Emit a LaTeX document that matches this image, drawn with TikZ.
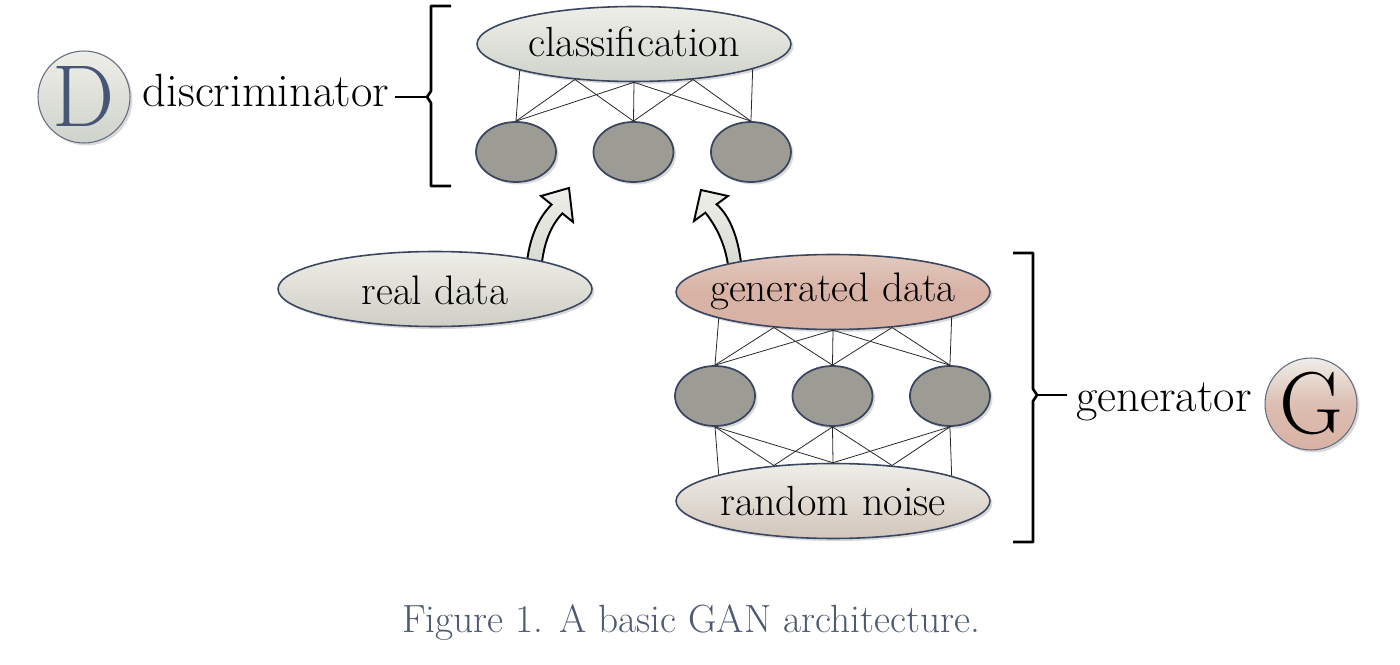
\documentclass[tikz,border=0pt]{standalone}
\usetikzlibrary{shapes.geometric,shadows,backgrounds}

\definecolor{edgeblue}{RGB}{58,70,96}
\definecolor{paletop}{RGB}{238,238,232}
\definecolor{palebot}{RGB}{206,211,203}
\definecolor{rose}{RGB}{216,178,164}
\definecolor{unitgray}{RGB}{157,156,148}
\definecolor{dletter}{RGB}{70,86,116}
\definecolor{capblue}{RGB}{78,90,114}

\newcommand\lblfont{\fontsize{24}{28}\selectfont}
\newcommand\sidefont{\fontsize{26.5}{30}\selectfont}
\newcommand\badgefont{\fontsize{50}{56}\selectfont}

\begin{document}
\begin{tikzpicture}[x=0.02cm, y=-0.02cm,
    layer/.style = {draw=edgeblue, line width=0.9pt, ellipse, inner sep=0pt,
      minimum width=6.28cm, minimum height=1.5cm,
      drop shadow={shadow xshift=0.05cm, shadow yshift=-0.05cm, opacity=0.3}},
    pale/.style = {top color=paletop, bottom color=palebot},
    pink/.style = {top color=rose!60!paletop, bottom color=rose, middle color=rose},
    unit/.style = {draw=edgeblue, line width=1pt, ellipse, fill=unitgray, inner sep=0pt,
      minimum width=1.6cm, minimum height=1.2cm,
      drop shadow={shadow xshift=0.05cm, shadow yshift=-0.05cm, opacity=0.3}},
    txt/.style = {font=\lblfont, anchor=base, inner sep=0pt},
    badge/.style = {draw=edgeblue!80, circle, line width=0.6pt, inner sep=0pt, minimum size=1.84cm,
      font=\badgefont,
      drop shadow={shadow xshift=0.05cm, shadow yshift=-0.05cm, opacity=0.3}},
    conn/.style = {line width=0.45pt, black!85},
    brace/.style = {line width=1.5pt, line join=round},
    bigarrow/.style = {draw=black, line width=1.1pt, line join=miter, top color=paletop, bottom color=palebot!80!paletop},
    node distance=2.35cm]

    % discriminator side
    \node[layer, pale] (cls) at (634,44) {};
    \node[txt] at (634,57) {classification};
    \node[unit] (d1) at (516,152) {};
    \node[unit] (d2) [right of=d1] {};
    \node[unit] (d3) [right of=d2] {};
    %
    \draw[conn] (d1.north) -- (cls.-167.9);
    \draw[conn] (d1.north) -- (cls.-149);
    \draw[conn] (d1.north) -- (cls.south);
    \draw[conn] (d2.north) -- (cls.-149);
    \draw[conn] (d2.north) -- (cls.south);
    \draw[conn] (d2.north) -- (cls.-31);
    \draw[conn] (d3.north) -- (cls.south);
    \draw[conn] (d3.north) -- (cls.-31);
    \draw[conn] (d3.north) -- (cls.-12.1);

    \node[txt, font=\sidefont] (dtxt) at (266,107) {discriminator};
    \node[badge, top color=paletop, bottom color=palebot, text=dletter] (dbadge) at (84,97) {D};
    \coordinate (dtip) at (427,97);
    \draw[brace] (451,6) -- (431,6) -- (431,91) -- (dtip) -- (431,103) -- (431,186) -- (451,186);
    \draw[brace] (dtxt.east |- dtip) ++(6,0) -- (dtip);

    % inputs
    \node[layer, pale, bottom color=palebot!85!rose] (real) at (435,289) {};
    \node[txt, font=\fontsize{23.5}{28}\selectfont] at (435,305) {real data};

    % generator side
    \node[layer, pink] (gen) at (833,292) {};
    \node[txt, font=\fontsize{23.5}{28}\selectfont] at (833,302) {generated data};
    \node[unit] (g1) at (715,396) {};
    \node[unit] (g2) [right of=g1] {};
    \node[unit] (g3) [right of=g2] {};
    \node[layer, pale, bottom color=palebot!60!rose] (noise) at (833,501) {};
    \node[txt] at (833,516) {random noise};
    %
    \draw[conn] (g1.north) -- (gen.-167.9);
    \draw[conn] (g1.north) -- (gen.-149);
    \draw[conn] (g1.north) -- (gen.south);
    \draw[conn] (g2.north) -- (gen.-149);
    \draw[conn] (g2.north) -- (gen.south);
    \draw[conn] (g2.north) -- (gen.-31);
    \draw[conn] (g3.north) -- (gen.south);
    \draw[conn] (g3.north) -- (gen.-31);
    \draw[conn] (g3.north) -- (gen.-12.1);
    %
    \draw[conn] (g1.south) -- (noise.167.9);
    \draw[conn] (g1.south) -- (noise.149);
    \draw[conn] (g1.south) -- (noise.north);
    \draw[conn] (g2.south) -- (noise.149);
    \draw[conn] (g2.south) -- (noise.north);
    \draw[conn] (g2.south) -- (noise.31);
    \draw[conn] (g3.south) -- (noise.north);
    \draw[conn] (g3.south) -- (noise.31);
    \draw[conn] (g3.south) -- (noise.12.1);

    \node[txt, font=\sidefont] (gtxt) at (1164,412) {generator};
    \node[badge, top color=paletop, bottom color=rose, middle color=rose!80!paletop] (gbadge) at (1311,404) {G};
    \coordinate (gtip) at (1037,395);
    \draw[brace] (1013,253) -- (1033,253) -- (1033,389) -- (gtip) -- (1033,401) -- (1033,542) -- (1013,542);
    \draw[brace] (gtip) -- (1067,395);

    % curved arrows into the discriminator
    \begin{pgfonlayer}{background}
      \draw[bigarrow] (526,272) .. controls (528,240) and (538,218) .. (551.6,204.6)
        -- (541,196) -- (569,188) -- (573,222) -- (562.4,213.4)
        .. controls (552,224) and (543,242) .. (541,272) -- cycle;
      \draw[bigarrow] (742,274) .. controls (740,240) and (730,216) .. (716.6,204.3)
        -- (728,196) -- (701,190) -- (694,221) -- (705.4,212.7)
        .. controls (716,226) and (727,246) .. (729,274) -- cycle;
    \end{pgfonlayer}

    \node[font=\fontsize{22.4}{26}\selectfont, text=capblue, anchor=base] (caption) at (691,632)
      {Figure 1. A basic GAN architecture.};

    \useasboundingbox (0,0) rectangle (1400,665);
\end{tikzpicture}
\end{document}
